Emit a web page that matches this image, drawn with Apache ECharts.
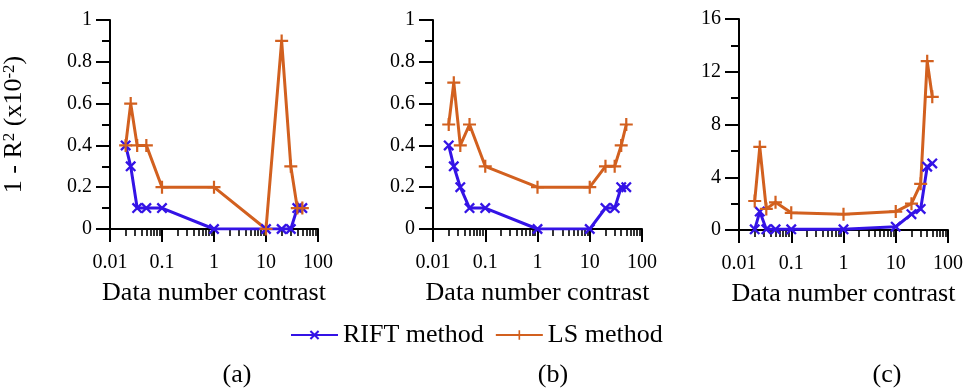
<!DOCTYPE html>
<html>
<head>
<meta charset="utf-8">
<script src="https://cdn.jsdelivr.net/npm/echarts@6/dist/echarts.min.js"></script>
<style>
  html, body { margin: 0; padding: 0; background: #fff; }
  #chart { width: 968px; height: 392px; }
</style>
</head>
<body>
<div id="chart"></div>
<script>
// Data number contrast (shared by the three panels)
const contrast = [0.02, 0.025, 0.0333, 0.05, 0.1, 1, 10, 20, 30, 40, 50];

// Panel (a): 1 - R^2 (x10^-2)
const riftA = [0.4, 0.3, 0.1, 0.1, 0.1, 0, 0, 0, 0, 0.1, 0.1];
const lsA   = [0.4, 0.6, 0.4, 0.4, 0.2, 0.2, 0, 0.9, 0.3, 0.1, 0.1];
// Panel (b)
const riftB = [0.4, 0.3, 0.2, 0.1, 0.1, 0, 0, 0.1, 0.1, 0.2, 0.2];
const lsB   = [0.5, 0.7, 0.4, 0.5, 0.3, 0.2, 0.2, 0.3, 0.3, 0.4, 0.5];
// Panel (c)
const riftC = [0.05, 1.4, 0.05, 0.05, 0.05, 0.05, 0.25, 1.2, 1.6, 4.8, 5.05];
const lsC   = [2.2, 6.3, 1.6, 2.1, 1.3, 1.2, 1.4, 2.0, 3.5, 12.8, 10.1];

// Axis ticks
const xMajorTicks = [0.01, 0.1, 1, 10, 100];
const xTickLabels = ['0.01', '0.1', '1', '10', '100'];
const xMinorTicks = [
  0.02, 0.03, 0.04, 0.05, 0.06, 0.07, 0.08, 0.09,
  0.2, 0.3, 0.4, 0.5, 0.6, 0.7, 0.8, 0.9,
  2, 3, 4, 5, 6, 7, 8, 9,
  20, 30, 40, 50, 60, 70, 80, 90
];
const yRangeAB = [0, 1, 0.2];
const yRangeC  = [0, 16, 4];

const panelLabels = ['(a)', '(b)', '(c)'];
const seriesNames = ['RIFT method', 'LS method'];

const BLUE = '#3413e6';
const ORANGE = '#d2601f';
const FONT = '"Liberation Serif", "Times New Roman", serif';

const crossSymbol = 'path://M0,3 L3,0 L20,17 L17,20 Z M17,0 L20,3 L3,20 L0,17 Z';
const plusSymbol = 'path://M8.3,0 H11.7 V20 H8.3 Z M0,8.3 H20 V11.7 H0 Z';

const grids = [
  { left: 110, top: 20, width: 208, height: 209 },
  { left: 433, top: 20, width: 209, height: 209 },
  { left: 739, top: 19, width: 209, height: 211 }
];

const logMin = Math.log10(xMajorTicks[0]);
const logMax = Math.log10(xMajorTicks[xMajorTicks.length - 1]);

const xAxes = [];
const yAxes = [];
grids.forEach((g, i) => {
  // data axis (log scale)
  xAxes.push({
    type: 'log', logBase: 10, gridIndex: i,
    min: xMajorTicks[0], max: xMajorTicks[xMajorTicks.length - 1],
    position: 'bottom',
    axisLine: { onZero: false, lineStyle: { color: '#000', width: 2 } },
    axisTick: { show: false },
    axisLabel: { show: false },
    splitLine: { show: false },
    name: 'Data number contrast', nameLocation: 'middle', nameGap: 51,
    nameTextStyle: { color: '#000', fontSize: 26, fontFamily: FONT }
  });
  // decade ticks and labels, laid out in log10 units
  xAxes.push({
    type: 'value', gridIndex: i, min: logMin, max: logMax, interval: 1, position: 'bottom',
    axisLine: { show: false, onZero: false },
    axisTick: { show: true, length: 13, lineStyle: { color: '#000', width: 2 } },
    axisLabel: {
      formatter: (v) => xTickLabels[Math.round(v - logMin)],
      color: '#000', fontSize: 20, fontFamily: FONT, margin: 24
    },
    splitLine: { show: false }
  });
  // minor ticks between decades
  xAxes.push({
    type: 'value', gridIndex: i, min: logMin, max: logMax, position: 'bottom',
    axisLine: { show: false, onZero: false },
    axisTick: { show: true, length: 7, customValues: xMinorTicks.map(Math.log10), lineStyle: { color: '#000', width: 1.6 } },
    axisLabel: { show: false },
    splitLine: { show: false }
  });
  const r = i < 2 ? yRangeAB : yRangeC;
  const y = {
    type: 'value', gridIndex: i, min: r[0], max: r[1], interval: r[2],
    axisLine: { show: true, onZero: false, lineStyle: { color: '#000', width: 2 } },
    axisTick: { show: true, length: 14, lineStyle: { color: '#000', width: 2 } },
    minorTick: { show: true, splitNumber: 2, length: 8, lineStyle: { color: '#000', width: 2 } },
    axisLabel: { color: '#000', fontSize: 20, fontFamily: FONT, margin: 18 },
    splitLine: { show: false }
  };
  if (i === 0) {
    y.name = '1 - R{s|2} (x10{s|-2})';
    y.nameLocation = 'middle';
    y.nameGap = 82;
    y.nameTextStyle = {
      color: '#000', fontSize: 26, fontFamily: FONT,
      rich: { s: { fontSize: 17, fontFamily: FONT, color: '#000', verticalAlign: 'top', padding: [0, 0, 10, 0] } }
    };
  }
  yAxes.push(y);
});

function pairs(vals) {
  return contrast.map((x, k) => [x, vals[k]]);
}

function lineSeries(name, vals, panel, color, symbol, size) {
  return {
    name: name, type: 'line',
    xAxisIndex: panel * 3, yAxisIndex: panel,
    data: pairs(vals),
    symbol: symbol, symbolSize: size,
    showAllSymbol: true,
    lineStyle: { color: color, width: 3 },
    itemStyle: { color: color },
    emphasis: { disabled: true },
    animation: false
  };
}

const series = [
  lineSeries(seriesNames[0], riftA, 0, BLUE, crossSymbol, 11),
  lineSeries(seriesNames[1], lsA, 0, ORANGE, plusSymbol, 13),
  lineSeries(seriesNames[0], riftB, 1, BLUE, crossSymbol, 11),
  lineSeries(seriesNames[1], lsB, 1, ORANGE, plusSymbol, 13),
  lineSeries(seriesNames[0], riftC, 2, BLUE, crossSymbol, 11),
  lineSeries(seriesNames[1], lsC, 2, ORANGE, plusSymbol, 13)
];

const panelX = [237, 553, 887];

const chart = echarts.init(document.getElementById('chart'), null, { renderer: 'canvas' });
chart.setOption({
  animation: false,
  backgroundColor: '#fff',
  grid: grids,
  xAxis: xAxes,
  yAxis: yAxes,
  series: series,
  legend: {
    data: seriesNames,
    left: 290, top: 322, padding: 0,
    itemWidth: 47, itemHeight: 12, itemGap: 11,
    textStyle: { color: '#000', fontSize: 26, fontFamily: FONT },
    selectedMode: false
  },
  graphic: panelLabels.map((t, i) => ({
    type: 'text', x: panelX[i], y: 375,
    style: { text: t, fill: '#000', font: '26px ' + FONT, align: 'center', verticalAlign: 'middle' }
  }))
});
</script>
</body>
</html>
